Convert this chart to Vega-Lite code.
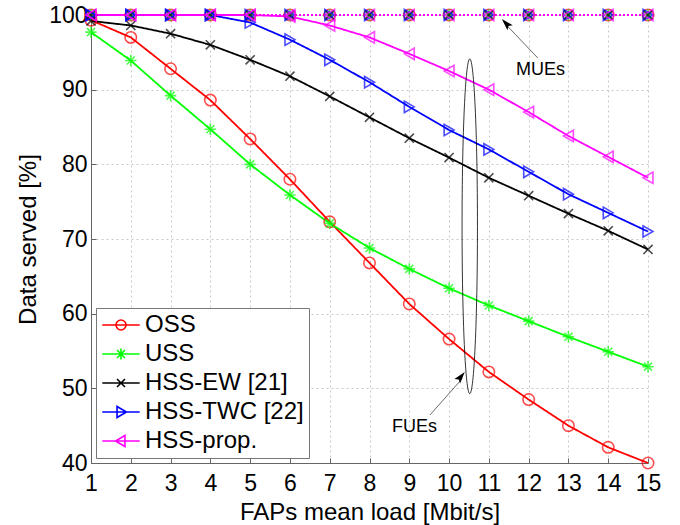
{
  "$schema": "https://vega.github.io/schema/vega-lite/v6.json",
  "width": 557,
  "height": 448,
  "autosize": {"type": "none"},
  "padding": {"left": 91, "top": 15, "right": 32, "bottom": 62},
  "background": "white",
  "config": {
    "view": {"stroke": null},
    "font": "Liberation Sans",
    "axis": {
      "labelFont": "Liberation Sans",
      "titleFont": "Liberation Sans",
      "labelFontSize": 23,
      "titleFontSize": 24,
      "titleFontWeight": "normal",
      "labelColor": "#000",
      "titleColor": "#000",
      "domainColor": "#666",
      "tickColor": "#666",
      "gridColor": "#c8c8c8",
      "gridDash": [2, 3],
      "gridWidth": 1,
      "labelOverlap": false
    },
    "point": {"filled": false, "strokeWidth": 1.6, "size": 130, "clip": false}
  },
  "datasets": {
    "series": [
      {"x": 1, "v": 99.3, "s": "OSS", "ue": "FUE"},
      {"x": 2, "v": 97.0, "s": "OSS", "ue": "FUE"},
      {"x": 3, "v": 92.8, "s": "OSS", "ue": "FUE"},
      {"x": 4, "v": 88.6, "s": "OSS", "ue": "FUE"},
      {"x": 5, "v": 83.4, "s": "OSS", "ue": "FUE"},
      {"x": 6, "v": 78.0, "s": "OSS", "ue": "FUE"},
      {"x": 7, "v": 72.3, "s": "OSS", "ue": "FUE"},
      {"x": 8, "v": 66.8, "s": "OSS", "ue": "FUE"},
      {"x": 9, "v": 61.3, "s": "OSS", "ue": "FUE"},
      {"x": 10, "v": 56.6, "s": "OSS", "ue": "FUE"},
      {"x": 11, "v": 52.2, "s": "OSS", "ue": "FUE"},
      {"x": 12, "v": 48.5, "s": "OSS", "ue": "FUE"},
      {"x": 13, "v": 45.0, "s": "OSS", "ue": "FUE"},
      {"x": 14, "v": 42.1, "s": "OSS", "ue": "FUE"},
      {"x": 15, "v": 40.0, "s": "OSS", "ue": "FUE"},
      {"x": 1, "v": 97.7, "s": "USS", "ue": "FUE"},
      {"x": 2, "v": 93.9, "s": "USS", "ue": "FUE"},
      {"x": 3, "v": 89.2, "s": "USS", "ue": "FUE"},
      {"x": 4, "v": 84.7, "s": "USS", "ue": "FUE"},
      {"x": 5, "v": 80.0, "s": "USS", "ue": "FUE"},
      {"x": 6, "v": 75.9, "s": "USS", "ue": "FUE"},
      {"x": 7, "v": 72.1, "s": "USS", "ue": "FUE"},
      {"x": 8, "v": 68.8, "s": "USS", "ue": "FUE"},
      {"x": 9, "v": 66.0, "s": "USS", "ue": "FUE"},
      {"x": 10, "v": 63.4, "s": "USS", "ue": "FUE"},
      {"x": 11, "v": 61.1, "s": "USS", "ue": "FUE"},
      {"x": 12, "v": 59.0, "s": "USS", "ue": "FUE"},
      {"x": 13, "v": 56.9, "s": "USS", "ue": "FUE"},
      {"x": 14, "v": 54.9, "s": "USS", "ue": "FUE"},
      {"x": 15, "v": 52.9, "s": "USS", "ue": "FUE"},
      {"x": 1, "v": 99.2, "s": "HSS-EW [21]", "ue": "FUE"},
      {"x": 2, "v": 98.6, "s": "HSS-EW [21]", "ue": "FUE"},
      {"x": 3, "v": 97.5, "s": "HSS-EW [21]", "ue": "FUE"},
      {"x": 4, "v": 96.0, "s": "HSS-EW [21]", "ue": "FUE"},
      {"x": 5, "v": 94.0, "s": "HSS-EW [21]", "ue": "FUE"},
      {"x": 6, "v": 91.8, "s": "HSS-EW [21]", "ue": "FUE"},
      {"x": 7, "v": 89.1, "s": "HSS-EW [21]", "ue": "FUE"},
      {"x": 8, "v": 86.3, "s": "HSS-EW [21]", "ue": "FUE"},
      {"x": 9, "v": 83.5, "s": "HSS-EW [21]", "ue": "FUE"},
      {"x": 10, "v": 80.9, "s": "HSS-EW [21]", "ue": "FUE"},
      {"x": 11, "v": 78.2, "s": "HSS-EW [21]", "ue": "FUE"},
      {"x": 12, "v": 75.8, "s": "HSS-EW [21]", "ue": "FUE"},
      {"x": 13, "v": 73.4, "s": "HSS-EW [21]", "ue": "FUE"},
      {"x": 14, "v": 71.1, "s": "HSS-EW [21]", "ue": "FUE"},
      {"x": 15, "v": 68.6, "s": "HSS-EW [21]", "ue": "FUE"},
      {"x": 1, "v": 100, "s": "HSS-TWC [22]", "ue": "FUE"},
      {"x": 2, "v": 100, "s": "HSS-TWC [22]", "ue": "FUE"},
      {"x": 3, "v": 100, "s": "HSS-TWC [22]", "ue": "FUE"},
      {"x": 4, "v": 100, "s": "HSS-TWC [22]", "ue": "FUE"},
      {"x": 5, "v": 99.0, "s": "HSS-TWC [22]", "ue": "FUE"},
      {"x": 6, "v": 96.7, "s": "HSS-TWC [22]", "ue": "FUE"},
      {"x": 7, "v": 94.0, "s": "HSS-TWC [22]", "ue": "FUE"},
      {"x": 8, "v": 91.0, "s": "HSS-TWC [22]", "ue": "FUE"},
      {"x": 9, "v": 87.7, "s": "HSS-TWC [22]", "ue": "FUE"},
      {"x": 10, "v": 84.6, "s": "HSS-TWC [22]", "ue": "FUE"},
      {"x": 11, "v": 82.0, "s": "HSS-TWC [22]", "ue": "FUE"},
      {"x": 12, "v": 79.0, "s": "HSS-TWC [22]", "ue": "FUE"},
      {"x": 13, "v": 76.0, "s": "HSS-TWC [22]", "ue": "FUE"},
      {"x": 14, "v": 73.5, "s": "HSS-TWC [22]", "ue": "FUE"},
      {"x": 15, "v": 71.0, "s": "HSS-TWC [22]", "ue": "FUE"},
      {"x": 1, "v": 100, "s": "HSS-prop.", "ue": "FUE"},
      {"x": 2, "v": 100, "s": "HSS-prop.", "ue": "FUE"},
      {"x": 3, "v": 100, "s": "HSS-prop.", "ue": "FUE"},
      {"x": 4, "v": 100, "s": "HSS-prop.", "ue": "FUE"},
      {"x": 5, "v": 100, "s": "HSS-prop.", "ue": "FUE"},
      {"x": 6, "v": 99.8, "s": "HSS-prop.", "ue": "FUE"},
      {"x": 7, "v": 98.6, "s": "HSS-prop.", "ue": "FUE"},
      {"x": 8, "v": 97.0, "s": "HSS-prop.", "ue": "FUE"},
      {"x": 9, "v": 94.8, "s": "HSS-prop.", "ue": "FUE"},
      {"x": 10, "v": 92.5, "s": "HSS-prop.", "ue": "FUE"},
      {"x": 11, "v": 90.0, "s": "HSS-prop.", "ue": "FUE"},
      {"x": 12, "v": 87.0, "s": "HSS-prop.", "ue": "FUE"},
      {"x": 13, "v": 83.8, "s": "HSS-prop.", "ue": "FUE"},
      {"x": 14, "v": 81.0, "s": "HSS-prop.", "ue": "FUE"},
      {"x": 15, "v": 78.2, "s": "HSS-prop.", "ue": "FUE"},
      {"x": 1, "v": 100, "s": "OSS", "ue": "MUE"},
      {"x": 2, "v": 100, "s": "OSS", "ue": "MUE"},
      {"x": 3, "v": 100, "s": "OSS", "ue": "MUE"},
      {"x": 4, "v": 100, "s": "OSS", "ue": "MUE"},
      {"x": 5, "v": 100, "s": "OSS", "ue": "MUE"},
      {"x": 6, "v": 100, "s": "OSS", "ue": "MUE"},
      {"x": 7, "v": 100, "s": "OSS", "ue": "MUE"},
      {"x": 8, "v": 100, "s": "OSS", "ue": "MUE"},
      {"x": 9, "v": 100, "s": "OSS", "ue": "MUE"},
      {"x": 10, "v": 100, "s": "OSS", "ue": "MUE"},
      {"x": 11, "v": 100, "s": "OSS", "ue": "MUE"},
      {"x": 12, "v": 100, "s": "OSS", "ue": "MUE"},
      {"x": 13, "v": 100, "s": "OSS", "ue": "MUE"},
      {"x": 14, "v": 100, "s": "OSS", "ue": "MUE"},
      {"x": 15, "v": 100, "s": "OSS", "ue": "MUE"},
      {"x": 1, "v": 100, "s": "USS", "ue": "MUE"},
      {"x": 2, "v": 100, "s": "USS", "ue": "MUE"},
      {"x": 3, "v": 100, "s": "USS", "ue": "MUE"},
      {"x": 4, "v": 100, "s": "USS", "ue": "MUE"},
      {"x": 5, "v": 100, "s": "USS", "ue": "MUE"},
      {"x": 6, "v": 100, "s": "USS", "ue": "MUE"},
      {"x": 7, "v": 100, "s": "USS", "ue": "MUE"},
      {"x": 8, "v": 100, "s": "USS", "ue": "MUE"},
      {"x": 9, "v": 100, "s": "USS", "ue": "MUE"},
      {"x": 10, "v": 100, "s": "USS", "ue": "MUE"},
      {"x": 11, "v": 100, "s": "USS", "ue": "MUE"},
      {"x": 12, "v": 100, "s": "USS", "ue": "MUE"},
      {"x": 13, "v": 100, "s": "USS", "ue": "MUE"},
      {"x": 14, "v": 100, "s": "USS", "ue": "MUE"},
      {"x": 15, "v": 100, "s": "USS", "ue": "MUE"},
      {"x": 1, "v": 100, "s": "HSS-EW [21]", "ue": "MUE"},
      {"x": 2, "v": 100, "s": "HSS-EW [21]", "ue": "MUE"},
      {"x": 3, "v": 100, "s": "HSS-EW [21]", "ue": "MUE"},
      {"x": 4, "v": 100, "s": "HSS-EW [21]", "ue": "MUE"},
      {"x": 5, "v": 100, "s": "HSS-EW [21]", "ue": "MUE"},
      {"x": 6, "v": 100, "s": "HSS-EW [21]", "ue": "MUE"},
      {"x": 7, "v": 100, "s": "HSS-EW [21]", "ue": "MUE"},
      {"x": 8, "v": 100, "s": "HSS-EW [21]", "ue": "MUE"},
      {"x": 9, "v": 100, "s": "HSS-EW [21]", "ue": "MUE"},
      {"x": 10, "v": 100, "s": "HSS-EW [21]", "ue": "MUE"},
      {"x": 11, "v": 100, "s": "HSS-EW [21]", "ue": "MUE"},
      {"x": 12, "v": 100, "s": "HSS-EW [21]", "ue": "MUE"},
      {"x": 13, "v": 100, "s": "HSS-EW [21]", "ue": "MUE"},
      {"x": 14, "v": 100, "s": "HSS-EW [21]", "ue": "MUE"},
      {"x": 15, "v": 100, "s": "HSS-EW [21]", "ue": "MUE"},
      {"x": 1, "v": 100, "s": "HSS-TWC [22]", "ue": "MUE"},
      {"x": 2, "v": 100, "s": "HSS-TWC [22]", "ue": "MUE"},
      {"x": 3, "v": 100, "s": "HSS-TWC [22]", "ue": "MUE"},
      {"x": 4, "v": 100, "s": "HSS-TWC [22]", "ue": "MUE"},
      {"x": 5, "v": 100, "s": "HSS-TWC [22]", "ue": "MUE"},
      {"x": 6, "v": 100, "s": "HSS-TWC [22]", "ue": "MUE"},
      {"x": 7, "v": 100, "s": "HSS-TWC [22]", "ue": "MUE"},
      {"x": 8, "v": 100, "s": "HSS-TWC [22]", "ue": "MUE"},
      {"x": 9, "v": 100, "s": "HSS-TWC [22]", "ue": "MUE"},
      {"x": 10, "v": 100, "s": "HSS-TWC [22]", "ue": "MUE"},
      {"x": 11, "v": 100, "s": "HSS-TWC [22]", "ue": "MUE"},
      {"x": 12, "v": 100, "s": "HSS-TWC [22]", "ue": "MUE"},
      {"x": 13, "v": 100, "s": "HSS-TWC [22]", "ue": "MUE"},
      {"x": 14, "v": 100, "s": "HSS-TWC [22]", "ue": "MUE"},
      {"x": 15, "v": 100, "s": "HSS-TWC [22]", "ue": "MUE"},
      {"x": 1, "v": 100, "s": "HSS-prop.", "ue": "MUE"},
      {"x": 2, "v": 100, "s": "HSS-prop.", "ue": "MUE"},
      {"x": 3, "v": 100, "s": "HSS-prop.", "ue": "MUE"},
      {"x": 4, "v": 100, "s": "HSS-prop.", "ue": "MUE"},
      {"x": 5, "v": 100, "s": "HSS-prop.", "ue": "MUE"},
      {"x": 6, "v": 100, "s": "HSS-prop.", "ue": "MUE"},
      {"x": 7, "v": 100, "s": "HSS-prop.", "ue": "MUE"},
      {"x": 8, "v": 100, "s": "HSS-prop.", "ue": "MUE"},
      {"x": 9, "v": 100, "s": "HSS-prop.", "ue": "MUE"},
      {"x": 10, "v": 100, "s": "HSS-prop.", "ue": "MUE"},
      {"x": 11, "v": 100, "s": "HSS-prop.", "ue": "MUE"},
      {"x": 12, "v": 100, "s": "HSS-prop.", "ue": "MUE"},
      {"x": 13, "v": 100, "s": "HSS-prop.", "ue": "MUE"},
      {"x": 14, "v": 100, "s": "HSS-prop.", "ue": "MUE"},
      {"x": 15, "v": 100, "s": "HSS-prop.", "ue": "MUE"}
    ]
  },
  "layer": [
    {
      "data": {"name": "series"},
      "transform": [{"filter": "datum.ue === 'FUE'"}],
      "mark": {"type": "point", "opacity": 0},
      "encoding": {
        "x": {"field": "x", "type": "quantitative",
          "scale": {"domain": [1, 15], "nice": false},
          "axis": {"title": "FAPs mean load [Mbit/s]", "values": [1,2,3,4,5,6,7,8,9,10,11,12,13,14,15], "tickCount": 20, "format": "d", "grid": true, "ticks": true, "tickSize": -5, "labelPadding": 14, "titlePadding": 5, "labelFlush": false, "labelOverlap": false}},
        "y": {"field": "v", "type": "quantitative",
          "scale": {"domain": [40, 100], "nice": false, "zero": false},
          "axis": {"title": "Data served [%]", "values": [40,50,60,70,80,90,100], "tickCount": 10, "format": "d", "grid": true, "ticks": true, "tickSize": -5, "labelPadding": 9, "titlePadding": 8, "labelFlush": false, "labelOverlap": false}},
        "color": {"field": "s", "type": "nominal",
          "scale": {"domain": ["OSS", "USS", "HSS-EW [21]", "HSS-TWC [22]", "HSS-prop."], "range": ["#ff0000", "#00ff00", "#000000", "#0000ff", "#ff00ff"]},
          "legend": {"title": null, "orient": "bottom-left", "offset": 5, "padding": 5, "rowPadding": 5,
            "strokeColor": "#777777", "fillColor": "white",
            "labelFont": "Liberation Sans", "labelFontSize": 24, "labelColor": "#000", "labelLimit": 0, "labelOffset": 12,
            "symbolSize": 484, "symbolOffset": 8, "symbolStrokeWidth": 1.6, "symbolOpacity": 1, "symbolFillColor": "transparent"}},
        "shape": {"field": "s", "type": "nominal",
          "scale": {"domain": ["OSS", "USS", "HSS-EW [21]", "HSS-TWC [22]", "HSS-prop."],
            "range": [
              "M-1.7,0H1.7M0.45,0A0.45,0.45 0 1,1 -0.45,0A0.45,0.45 0 1,1 0.45,0",
              "M-1.7,0H1.7M0,-0.5V0.5M-0.36,-0.36L0.36,0.36M-0.36,0.36L0.36,-0.36",
              "M-1.7,0H1.7M-0.36,-0.36L0.36,0.36M-0.36,0.36L0.36,-0.36",
              "M-1.7,0H1.7M-0.36,-0.5L0.5,0L-0.36,0.5Z",
              "M-1.7,0H1.7M0.36,-0.5L-0.5,0L0.36,0.5Z"
            ]},
          "legend": {"title": null, "orient": "bottom-left", "offset": 5, "padding": 5, "rowPadding": 5,
            "strokeColor": "#777777", "fillColor": "white",
            "labelFont": "Liberation Sans", "labelFontSize": 24, "labelColor": "#000", "labelLimit": 0, "labelOffset": 12,
            "symbolSize": 484, "symbolOffset": 8, "symbolStrokeWidth": 1.6, "symbolOpacity": 1, "symbolFillColor": "transparent"}}
      }
    },
    {
      "data": {"name": "series"},
      "mark": {"type": "line", "strokeWidth": 1.8},
      "encoding": {
        "x": {"field": "x", "type": "quantitative"},
        "y": {"field": "v", "type": "quantitative"},
        "color": {"field": "s", "type": "nominal"},
        "detail": {"field": "ue"},
        "strokeDash": {"field": "ue", "type": "nominal", "scale": {"domain": ["FUE", "MUE"], "range": [[1, 0], [2, 2]]}, "legend": null},
        "strokeWidth": {"field": "ue", "type": "nominal", "scale": {"domain": ["FUE", "MUE"], "range": [1.8, 1]}, "legend": null}
      }
    },
    {
      "data": {"name": "series"},
      "transform": [{"filter": "datum.s === 'OSS'"}],
      "mark": {"type": "point", "shape": "circle", "color": "#ff0000"},
      "encoding": {"x": {"field": "x", "type": "quantitative"}, "y": {"field": "v", "type": "quantitative"}}
    },
    {
      "data": {"name": "series"},
      "transform": [{"filter": "datum.s === 'USS'"}],
      "mark": {"type": "point", "shape": "M-1,0H1M0,-1V1M-0.7,-0.7L0.7,0.7M-0.7,0.7L0.7,-0.7", "color": "#00ff00"},
      "encoding": {"x": {"field": "x", "type": "quantitative"}, "y": {"field": "v", "type": "quantitative"}}
    },
    {
      "data": {"name": "series"},
      "transform": [{"filter": "datum.s === 'HSS-EW [21]'"}],
      "mark": {"type": "point", "shape": "M-0.8,-0.8L0.8,0.8M-0.8,0.8L0.8,-0.8", "color": "#000000"},
      "encoding": {"x": {"field": "x", "type": "quantitative"}, "y": {"field": "v", "type": "quantitative"}}
    },
    {
      "data": {"name": "series"},
      "transform": [{"filter": "datum.s === 'HSS-TWC [22]'"}],
      "mark": {"type": "point", "shape": "triangle-right", "color": "#0000ff"},
      "encoding": {"x": {"field": "x", "type": "quantitative"}, "y": {"field": "v", "type": "quantitative"}}
    },
    {
      "data": {"name": "series"},
      "transform": [{"filter": "datum.s === 'HSS-prop.'"}],
      "mark": {"type": "point", "shape": "triangle-left", "color": "#ff00ff"},
      "encoding": {"x": {"field": "x", "type": "quantitative"}, "y": {"field": "v", "type": "quantitative"}}
    },
    {
      "data": {"values": [{"x": 10.52, "y": 71.7}]},
      "mark": {"type": "point", "filled": false, "stroke": "#000", "strokeWidth": 0.8, "size": 112000, "opacity": 1,
        "shape": "M0,-1A0.046,1 0 1,1 0,1A0.046,1 0 1,1 0,-1"},
      "encoding": {"x": {"field": "x", "type": "quantitative"}, "y": {"field": "y", "type": "quantitative"}}
    },
    {
      "data": {"values": [{"x": 12.23, "y": 94.24, "x2": 11.38, "y2": 99.0}, {"x": 9.52, "y": 46.43, "x2": 10.33, "y2": 51.3}]},
      "mark": {"type": "rule", "color": "#444", "strokeWidth": 0.8},
      "encoding": {"x": {"field": "x", "type": "quantitative"}, "y": {"field": "y", "type": "quantitative"},
        "x2": {"field": "x2"}, "y2": {"field": "y2"}}
    },
    {
      "data": {"values": [{"x": 11.43, "y": 98.88}]},
      "mark": {"type": "point", "filled": true, "color": "#000", "opacity": 1, "size": 144, "angle": 317,
        "shape": "M0,-1L0.6,1L0,0.6L-0.6,1Z"},
      "encoding": {"x": {"field": "x", "type": "quantitative"}, "y": {"field": "y", "type": "quantitative"}}
    },
    {
      "data": {"values": [{"x": 10.30, "y": 51.56}]},
      "mark": {"type": "point", "filled": true, "color": "#000", "opacity": 1, "size": 144, "angle": 39,
        "shape": "M0,-1L0.6,1L0,0.6L-0.6,1Z"},
      "encoding": {"x": {"field": "x", "type": "quantitative"}, "y": {"field": "y", "type": "quantitative"}}
    },
    {
      "data": {"values": [{"x": 12.30, "y": 92.63, "label": "MUEs"}, {"x": 9.13, "y": 44.82, "label": "FUEs"}]},
      "mark": {"type": "text", "font": "Liberation Sans", "fontSize": 18, "color": "#000", "align": "center", "baseline": "middle"},
      "encoding": {"x": {"field": "x", "type": "quantitative"}, "y": {"field": "y", "type": "quantitative"}, "text": {"field": "label"}}
    }
  ]
}
